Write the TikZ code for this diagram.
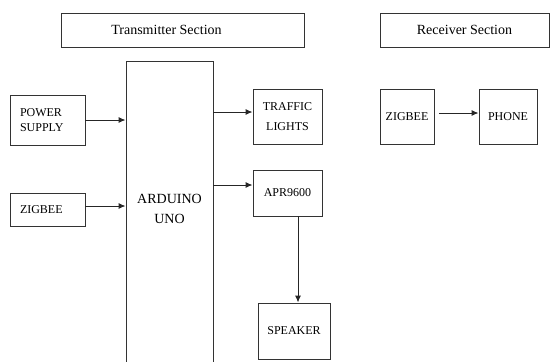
\documentclass[tikz,border=0pt]{standalone}
\usepackage{fontspec}
\setmainfont{Liberation Serif}
\usetikzlibrary{arrows.meta,positioning}

\begin{document}
\begin{tikzpicture}[x=1pt, y=-1pt,
  blk/.style={draw=black!80, line width=0.9pt, inner sep=0pt, align=center,
    font=\fontsize{12}{15}\selectfont},
  sidebox/.style={blk, align=left, text width=55.5pt, inner xsep=9.5pt},
  head/.style={blk, minimum height=34pt, font=\fontsize{14}{16}\selectfont},
  arr/.style={draw=black!85, line width=1pt, -{Latex[length=7pt,width=6pt]}}]
  \clip (0,0) rectangle (550,362);
  % section headings
  \node[head, minimum width=243pt] (txhead) at (182.5,30) {Transmitter Section\hspace*{32pt}};
  \node[head, minimum width=169pt] (rxhead) at (464.5,30) {Receiver Section};
  % transmitter
  \node[sidebox, minimum height=50pt] (power) at (47.75,120) {POWER\\SUPPLY\\[-5pt]};
  \node[sidebox, minimum height=33pt] (zigbee) at (47.75,209.5) {ZIGBEE};
  \node[blk, minimum width=87pt, minimum height=340pt, anchor=north,
    label={[font=\fontsize{14}{20}\selectfont, align=center, anchor=north,
      inner sep=0pt, yshift=-133.5pt]north:{ARDUINO\\UNO}}] (arduino) at (169.5,61) {};
  \node[blk, minimum width=69pt, minimum height=55pt,
    font=\fontsize{12}{20}\selectfont] (traffic) at (287.5,116.5) {TRAFFIC\\LIGHTS};
  \node[blk, minimum width=69pt, minimum height=46pt] (apr) at (287.5,193) {APR9600};
  \node[blk, minimum width=72pt, minimum height=56pt] (speaker) at (294,331) {SPEAKER};
  % receiver
  \node[blk, minimum width=54pt, minimum height=55pt] (rzigbee) at (407,116.5) {ZIGBEE};
  \node[blk, minimum width=58pt, minimum height=55pt] (phone) at (508,116.5) {PHONE};

  \draw[arr] (power.east) -- (power.east -| arduino.west);
  \draw[arr] ([yshift=3.5pt]zigbee.east) -- ([yshift=3.5pt]zigbee.east -| arduino.west);
  \draw[arr] ([yshift=4.5pt]traffic.west -| arduino.east) -- ([yshift=4.5pt]traffic.west);
  \draw[arr] ([yshift=8pt]apr.west -| arduino.east) -- ([yshift=8pt]apr.west);
  \draw[arr] ([xshift=10.5pt]apr.south) -- ([xshift=10.5pt]apr.south |- speaker.north);
  \draw[arr, shorten <=5pt] ([yshift=3.5pt]rzigbee.east) -- ([yshift=3.5pt]phone.west);
\end{tikzpicture}
\end{document}
